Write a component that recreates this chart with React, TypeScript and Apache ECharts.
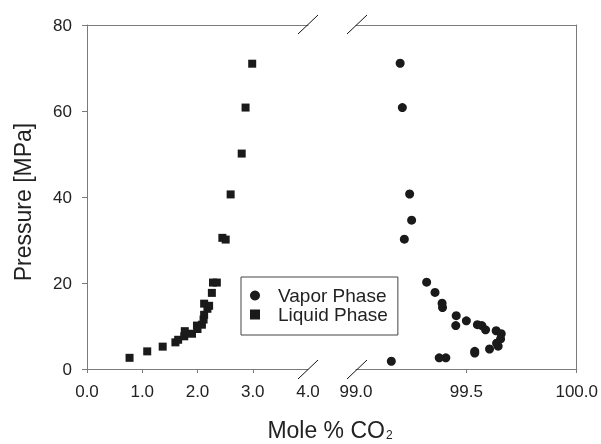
import React, { useEffect, useRef } from "react";
import * as echarts from "echarts";

const liquidX = [0.77, 1.09, 1.37, 1.60, 1.65, 1.76, 1.77, 1.90, 2.00, 1.99, 2.08, 2.11, 2.12, 2.18, 2.12, 2.21, 2.26, 2.28, 2.35, 2.45, 2.51, 2.60, 2.80, 2.87, 2.99];
const liquidP = [2.6, 4.1, 5.2, 6.2, 6.8, 7.6, 8.8, 8.2, 9.3, 10.1, 10.3, 11.5, 12.6, 14.0, 15.2, 14.7, 17.7, 20.1, 20.1, 30.5, 30.1, 40.6, 50.1, 60.8, 71.0];

const vaporX = [99.20, 99.21, 99.243, 99.252, 99.219, 99.32, 99.358, 99.39, 99.392, 99.454, 99.452, 99.50, 99.55, 99.57, 99.587, 99.635, 99.658, 99.655, 99.637, 99.644, 99.605, 99.538, 99.538, 99.377, 99.407, 99.16];
const vaporP = [71.1, 60.8, 40.7, 34.6, 30.2, 20.2, 17.8, 15.3, 14.3, 12.4, 10.1, 11.2, 10.3, 10.1, 9.1, 8.9, 8.2, 7.0, 6.0, 5.3, 4.65, 4.1, 3.7, 2.6, 2.6, 1.8];

const leftTicks = [0, 1, 2, 3, 4];
const rightTicks = [99.0, 99.5, 100.0];
const yTicks = [0, 20, 40, 60, 80];

const FONT = "'Liberation Sans', Arial, sans-serif";
const AXIS = "#7a7a7a";
const TXT = "#222";
const MARK = "#1a1a1a";

export default function App() {
  const ref = useRef<HTMLDivElement>(null);
  useEffect(() => {
    if (!ref.current) return;
    const chart = echarts.init(ref.current, null, { renderer: "svg" });
    const liquid = liquidX.map((x, i) => [x, liquidP[i]]);
    const vapor = vaporX.map((x, i) => [x, vaporP[i]]);
    const breakLine = (x1: number, y1: number, x2: number, y2: number) => ({
      type: "line",
      shape: { x1, y1, x2, y2 },
      style: { stroke: "#111", lineWidth: 1 },
      z: 100,
    });
    chart.setOption({
      animation: false,
      textStyle: { fontFamily: FONT },
      grid: [
        { left: 87, right: 293, top: 25, bottom: 75 },
        { left: 356, right: 23, top: 25, bottom: 75 },
      ],
      xAxis: [
        {
          type: "value", gridIndex: 0, min: 0, max: 4, interval: 1, position: "bottom",
          axisLine: { show: true, onZero: false, lineStyle: { color: AXIS, width: 1 } },
          axisTick: { show: true, length: 4, customValues: leftTicks.slice(0, 4), lineStyle: { color: AXIS } },
          axisLabel: { customValues: leftTicks, margin: 14, fontSize: 17, color: TXT, fontFamily: FONT, formatter: (v: number) => v.toFixed(1) },
          splitLine: { show: false },
        },
        {
          type: "value", gridIndex: 0, min: 0, max: 4, position: "top",
          axisLine: { show: true, onZero: false, lineStyle: { color: AXIS, width: 1 } },
          axisTick: { show: false }, axisLabel: { show: false }, splitLine: { show: false },
        },
        {
          type: "value", gridIndex: 1, min: 99, max: 100, interval: 0.5, position: "bottom",
          axisLine: { show: true, onZero: false, lineStyle: { color: AXIS, width: 1 } },
          axisTick: { show: true, length: 4, customValues: rightTicks.slice(1), lineStyle: { color: AXIS } },
          axisLabel: { customValues: rightTicks, margin: 14, fontSize: 17, color: TXT, fontFamily: FONT, formatter: (v: number) => v.toFixed(1) },
          splitLine: { show: false },
        },
        {
          type: "value", gridIndex: 1, min: 99, max: 100, position: "top",
          axisLine: { show: true, onZero: false, lineStyle: { color: AXIS, width: 1 } },
          axisTick: { show: false }, axisLabel: { show: false }, splitLine: { show: false },
        },
      ],
      yAxis: [
        {
          type: "value", gridIndex: 0, min: 0, max: 80, interval: 20, position: "left",
          axisLine: { show: true, onZero: false, lineStyle: { color: AXIS, width: 1 } },
          axisTick: { show: true, length: 5, customValues: yTicks, lineStyle: { color: AXIS } },
          axisLabel: { customValues: yTicks, margin: 15, fontSize: 17, color: TXT, fontFamily: FONT },
          splitLine: { show: false },
        },
        {
          type: "value", gridIndex: 1, min: 0, max: 80, interval: 20, position: "right",
          axisLine: { show: true, onZero: false, lineStyle: { color: AXIS, width: 1 } },
          axisTick: { show: false }, axisLabel: { show: false }, splitLine: { show: false },
        },
      ],
      legend: {
        orient: "vertical",
        left: 241,
        top: 277,
        padding: [9, 10, 11, 9],
        itemGap: 0,
        itemWidth: 10,
        itemHeight: 10,
        borderColor: "#444",
        borderWidth: 1,
        backgroundColor: "#fff",
        textStyle: { fontSize: 19, color: TXT, fontFamily: FONT, lineHeight: 18, padding: [0, 0, 0, 13] },
        data: [
          { name: "Vapor Phase", icon: "circle", itemStyle: { color: MARK, opacity: 1 } },
          { name: "Liquid Phase", icon: "rect", itemStyle: { color: MARK, opacity: 1 } },
        ],
      },
      series: [
        {
          name: "Vapor Phase", type: "scatter", xAxisIndex: 2, yAxisIndex: 1,
          symbol: "circle", symbolSize: 9, itemStyle: { color: MARK, opacity: 1 }, data: vapor,
        },
        {
          name: "Liquid Phase", type: "scatter", xAxisIndex: 0, yAxisIndex: 0,
          symbol: "rect", symbolSize: 8, itemStyle: { color: MARK, opacity: 1 }, data: liquid,
        },
      ],
      graphic: [
        breakLine(298, 34, 318, 15),
        breakLine(347, 34, 367, 15),
        breakLine(298, 379, 318, 360),
        breakLine(347, 379, 367, 360),
        {
          type: "text", x: 23, y: 202, rotation: Math.PI / 2,
          style: { text: "Pressure [MPa]", font: `23px ${FONT}`, fill: TXT, align: "center", verticalAlign: "middle" },
        },
        {
          type: "text", x: 330, y: 430,
          style: {
            text: "{m|Mole % CO}{s|2}",
            fill: TXT, align: "center", verticalAlign: "middle",
            rich: {
              m: { fontSize: 23, fontFamily: FONT, fill: TXT, color: TXT },
              s: { fontSize: 12, fontFamily: FONT, fill: TXT, color: TXT, padding: [10, 0, 0, 1] },
            },
          },
        },
      ],
    });
    return () => chart.dispose();
  }, []);
  return <div ref={ref} style={{ position: "fixed", left: 0, top: 0, width: 601, height: 444 }} />;
}
